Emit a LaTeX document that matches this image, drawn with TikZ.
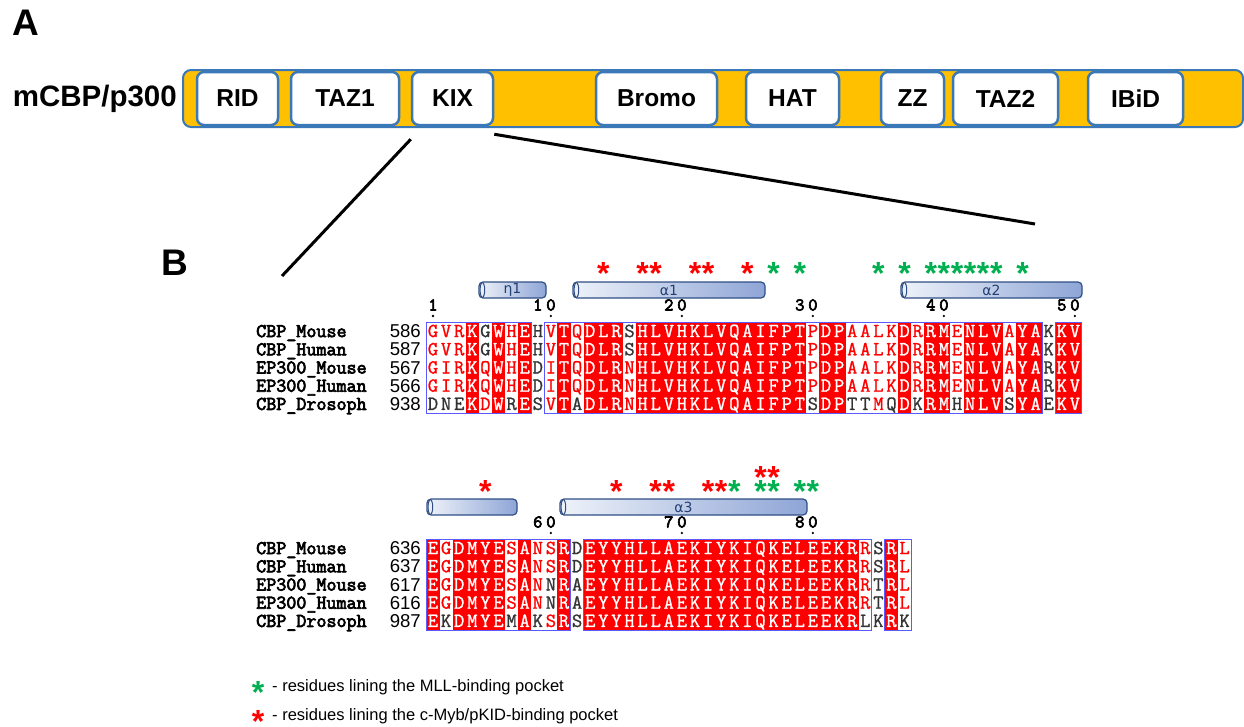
\documentclass[tikz,border=0pt]{standalone}
\usepackage{fontspec}
\setmainfont{Liberation Sans}
\newfontfamily\resfont[FakeBold=1.2]{Latin Modern Mono}
\newfontfamily\namefont[FakeBold=3.5]{Latin Modern Mono}
\newfontfamily\greekfont{DejaVu Sans}

\definecolor{barorange}{HTML}{FFC000}
\definecolor{barblue}{HTML}{3B78B8}
\definecolor{resr}{HTML}{FF0000}
\definecolor{resw}{HTML}{FFFFFF}
\definecolor{resk}{HTML}{333333}
\definecolor{frameblue}{HTML}{5A5AFF}
\definecolor{cylline}{HTML}{2F4E85}
\definecolor{cyltext}{HTML}{233F73}
\definecolor{cylA}{HTML}{EEF2F9}
\definecolor{cylB}{HTML}{8EA5D6}
\definecolor{stargreen}{HTML}{00B050}

% asterisco centrado en el punto del nodo
\newcommand\starmark{\raisebox{-0.56em}[0pt][0pt]{*}}

% fila de residuos: bloque, fila, y superior, letras, colores (w/r/k)
\newcommand\seqrow[5]{%
  \def\sqb{#1}\def\sqr{#2}\def\sqc{1}%
  \pgfmathsetmacro\sqy{#3+9.1+18.2*(#2-1)+6}%
  \sqwalk#4\relax#5\relax}
\def\sqwalk#1#2\relax#3#4\relax{%
  \node[res_letter, text=res#3] (s\sqb r\sqr c\sqc) at ({433+(\sqc-1)*13.1},\sqy) {#1};%
  \edef\sqc{\the\numexpr\sqc+1\relax}%
  \ifx\relax#2\relax\else\sqwalk#2\relax#4\relax\fi}

\begin{document}
\begin{tikzpicture}[x=1pt, y=-1pt]
  \tikzset{
    panel_label/.style={font=\bfseries\fontsize{37}{37}\selectfont, inner sep=0},
    bar_node/.style={rectangle, rounded corners=8pt, fill=barorange, draw=barblue, line width=2pt, minimum width=1060pt, minimum height=57pt},
    domain_box/.style={rectangle, rounded corners=7pt, fill=white, draw=barblue, line width=2.5pt, minimum height=53pt, inner sep=0, font=\bfseries\fontsize{24.5}{24.5}\selectfont},
    zoom_line/.style={line width=3pt, black},
    seq_name/.style={anchor=base west, inner sep=0, font=\namefont\fontsize{19.5}{19.5}\selectfont},
    seq_start/.style={anchor=base east, inner sep=0, font=\fontsize{18.6}{18.6}\selectfont},
    res_letter/.style={anchor=base, inner sep=0, font=\resfont\fontsize{20}{20}\selectfont},
    id_box/.style={fill=resr},
    sim_frame/.style={draw=frameblue, line width=1pt},
    helix_box/.style={rectangle, rounded corners=4pt, draw=cylline, line width=1.2pt, left color=cylA, right color=cylB, minimum height=16pt, inner sep=0, text=cyltext, font=\greekfont\fontsize{14}{14}\selectfont},
    helix_cap/.style={draw=cylline, line width=1pt},
    pos_digit/.style={anchor=base, inner sep=0, font=\namefont\fontsize{18}{18}\selectfont},
    red_star/.style={inner sep=0, text=resr, font=\bfseries\fontsize{32}{32}\selectfont},
    green_star/.style={inner sep=0, text=stargreen, font=\bfseries\fontsize{32}{32}\selectfont},
    legend_text/.style={anchor=base west, inner sep=0, font=\fontsize{16.5}{16.5}\selectfont}
  }
  \useasboundingbox (0,0) rectangle (1244,726);

  % Panel A: dominios de mCBP/p300
  \node[panel_label] (lab_a) at (26,23) {A};
  \node[bar_node] (bar) at (713,98.5) {};
  \node[anchor=east, inner sep=0, font=\bfseries\fontsize{29.5}{29.5}\selectfont] (prot) at (177,99) {mCBP/p300};
  \node[domain_box, minimum width=81pt] (rid) at (237.5,98.5) {RID};
  \node[domain_box, minimum width=108pt] (taz1) at (345,98.5) {TAZ1};
  \node[domain_box, minimum width=81pt] (kix) at (452.5,98.5) {KIX};
  \node[domain_box, minimum width=121pt] (bromo) at (656.5,98.5) {Bromo};
  \node[domain_box, minimum width=93pt] (hat) at (792.5,98.5) {HAT};
  \node[domain_box, minimum width=63pt] (zz) at (912.5,98.5) {ZZ};
  \node[domain_box, minimum width=105pt] (taz2) at (1005.5,98.5) {TAZ2};
  \node[domain_box, minimum width=95pt] (ibid) at (1135.5,98.5) {IBiD};

  % Lineas de ampliacion del KIX
  \coordinate (kix_l) at ([yshift=-13pt]kix.south west);
  \coordinate (kix_r) at ([yshift=-8pt]kix.south east);
  \coordinate (zoom_l) at (282,276);
  \coordinate (zoom_r) at (1035,224);
  \draw[zoom_line] (kix_l) -- (zoom_l);
  \draw[zoom_line] (kix_r) -- (zoom_r);

  % Panel B: alineamiento
  \node[panel_label] (lab_b) at (175,263) {B};

  % Bloque 1 (residuos 1-50)
  \foreach \a/\b in {4/4,6/6,8/8,11/11,13/15,17/29,31/32,37/37,39/40,42/44,46/47,49/50}
    \fill[id_box] ({426.45+(\a-1)*13.1},322) rectangle ({426.45+\b*13.1},413);
  \foreach \a/\b in {1/8,10/47,49/50}
    \draw[sim_frame] ({426.45+(\a-1)*13.1},322) rectangle ({426.45+\b*13.1},413);
  \foreach \nm/\st [count=\r] in {CBP\_Mouse/586,CBP\_Human/587,EP300\_Mouse/567,EP300\_Human/566,CBP\_Drosoph/938}{
    \node[seq_name] (name_a\r) at (256,{322+9.1+18.2*(\r-1)+6}) {\nm};
    \node[seq_start] (start_a\r) at (421,{322+9.1+18.2*(\r-1)+6.5}) {\st};
  }
  \seqrow{1}{1}{322}{GVRKGWHEHVTQDLRSHLVHKLVQAIFPTPDPAALKDRRMENLVAYAKKV}{rrrwkwrwkrwrwwwkwwwwwwwwwwwwwrwwrrrrwrwwrwwwrwwkww}
  \seqrow{1}{2}{322}{GVRKGWHEHVTQDLRSHLVHKLVQAIFPTPDPAALKDRRMENLVAYAKKV}{rrrwkwrwkrwrwwwkwwwwwwwwwwwwwrwwrrrrwrwwrwwwrwwkww}
  \seqrow{1}{3}{322}{GIRKQWHEDITQDLRNHLVHKLVQAIFPTPDPAALKDRRMENLVAYARKV}{rrrwrwrwkrwrwwwrwwwwwwwwwwwwwrwwrrrrwrwwrwwwrwwkww}
  \seqrow{1}{4}{322}{GIRKQWHEDITQDLRNHLVHKLVQAIFPTPDPAALKDRRMENLVAYARKV}{rrrwrwrwkrwrwwwrwwwwwwwwwwwwwrwwrrrrwrwwrwwwrwwkww}
  \seqrow{1}{5}{322}{DNEKDWRESVTADLRNHLVHKLVQAIFPTSDPTTMQDKRMHNLVSYAEKV}{kkkwrwkwkrwkwwwrwwwwwwwwwwwwwkwwkkrkwkwwkwwwkwwkww}

  % Numeracion y estructura secundaria (bloque 1)
  \foreach \d/\c [count=\k] in {1/1,1/9,0/10,2/19,0/20,3/29,0/30,4/39,0/40,5/49,0/50}
    \node[pos_digit] (pd_a\k) at ({433+(\c-1)*13.1},310.5) {\d};
  \foreach \c in {1,10,20,30,40,50}
    \fill ({433+(\c-1)*13.1},316) circle (1.3);
  \node[helix_box, minimum width=67pt] (eta1) at (512.5,290) {η1};
  \node[helix_box, minimum width=192pt] (alpha1) at (669,290) {α1};
  \node[helix_box, minimum width=181pt] (alpha2) at (991.5,290) {α2};
  \foreach \h in {eta1,alpha1,alpha2}
    \draw[helix_cap] ([xshift=4pt]\h.west) ellipse (2.3 and 7.4);
  \foreach \c [count=\k] in {14,17,18,21,22,25}
    \node[red_star] (rs_a\k) at ({433+(\c-1)*13.1},267) {\starmark};
  \foreach \c [count=\k] in {27,29,35,37,39,40,41,42,43,44,46}
    \node[green_star] (gs_a\k) at ({433+(\c-1)*13.1},267) {\starmark};

  % Bloque 2 (residuos 51-87)
  \foreach \a/\b in {1/1,3/6,8/8,11/11,13/33,36/36}
    \fill[id_box] ({426.45+(\a-1)*13.1},539) rectangle ({426.45+\b*13.1},630);
  \foreach \a/\b in {1/11,13/34,36/37}
    \draw[sim_frame] ({426.45+(\a-1)*13.1},539) rectangle ({426.45+\b*13.1},630);
  \foreach \nm/\st [count=\r] in {CBP\_Mouse/636,CBP\_Human/637,EP300\_Mouse/617,EP300\_Human/616,CBP\_Drosoph/987}{
    \node[seq_name] (name_b\r) at (256,{539+9.1+18.2*(\r-1)+6}) {\nm};
    \node[seq_start] (start_b\r) at (421,{539+9.1+18.2*(\r-1)+6.5}) {\st};
  }
  \seqrow{2}{1}{539}{EGDMYESANSRDEYYHLLAEKIYKIQKELEEKRRSRL}{wrwwwwrwrrwkwwwwwwwwwwwwwwwwwwwwwrkwr}
  \seqrow{2}{2}{539}{EGDMYESANSRDEYYHLLAEKIYKIQKELEEKRRSRL}{wrwwwwrwrrwkwwwwwwwwwwwwwwwwwwwwwrkwr}
  \seqrow{2}{3}{539}{EGDMYESANNRAEYYHLLAEKIYKIQKELEEKRRTRL}{wrwwwwrwrkwkwwwwwwwwwwwwwwwwwwwwwrkwr}
  \seqrow{2}{4}{539}{EGDMYESANNRAEYYHLLAEKIYKIQKELEEKRRTRL}{wrwwwwrwrkwkwwwwwwwwwwwwwwwwwwwwwrkwr}
  \seqrow{2}{5}{539}{EKDMYEMAKSRSEYYHLLAEKIYKIQKELEEKRLKRK}{wkwwwwkwkrwkwwwwwwwwwwwwwwwwwwwwwkkwk}

  % Numeracion y estructura secundaria (bloque 2)
  \foreach \d/\c [count=\k] in {6/9,0/10,7/19,0/20,8/29,0/30}
    \node[pos_digit] (pd_b\k) at ({433+(\c-1)*13.1},527.5) {\d};
  \foreach \c in {10,20,30}
    \fill ({433+(\c-1)*13.1},533) circle (1.3);
  \node[helix_box, minimum width=90pt] (helix4) at (472,507) {};
  \node[helix_box, minimum width=247pt] (alpha3) at (683.5,507) {α3};
  \foreach \h in {helix4,alpha3}
    \draw[helix_cap] ([xshift=4pt]\h.west) ellipse (2.3 and 7.4);
  \foreach \c [count=\k] in {5,15,18,19,22,23}
    \node[red_star] (rs_b\k) at ({433+(\c-1)*13.1},485) {\starmark};
  \foreach \c [count=\k] in {26,27}
    \node[red_star] (rs_c\k) at ({433+(\c-1)*13.1},471) {\starmark};
  \foreach \c [count=\k] in {24,26,27,29,30}
    \node[green_star] (gs_b\k) at ({433+(\c-1)*13.1},485) {\starmark};

  % Leyenda
  \node[green_star] (lg_star1) at (258,686) {\starmark};
  \node[legend_text] (lg_text1) at (272,691) {- residues lining the MLL-binding pocket};
  \node[red_star] (lg_star2) at (258,715) {\starmark};
  \node[legend_text] (lg_text2) at (272,720) {- residues lining the c-Myb/pKID-binding pocket};
\end{tikzpicture}
\end{document}
